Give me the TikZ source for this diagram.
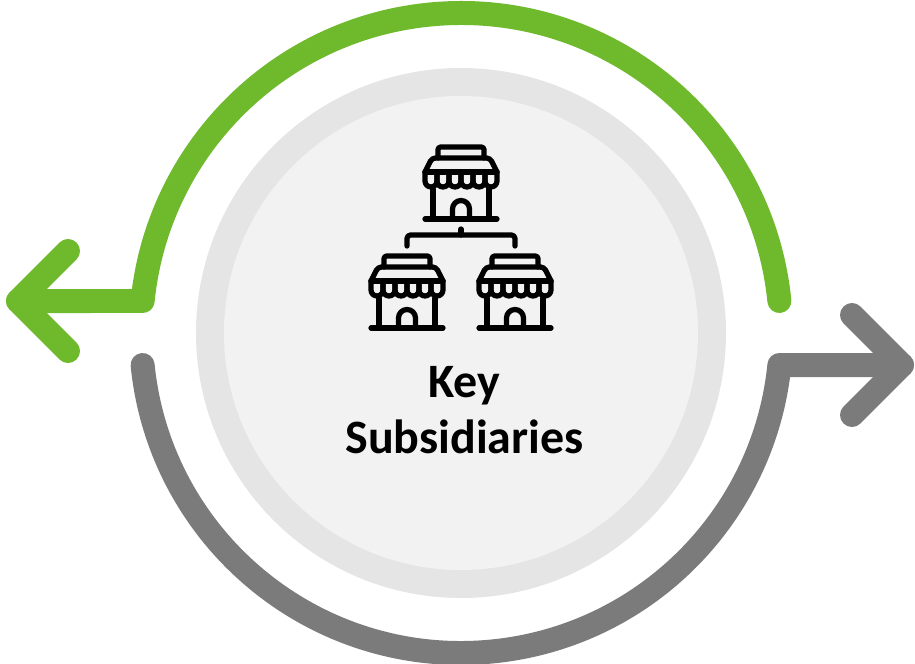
\documentclass[tikz,border=0pt]{standalone}
\usepackage{fontspec}
\setmainfont{Carlito}
\usetikzlibrary{calc,positioning}
\definecolor{kreisgruen}{HTML}{6FB92C}
\definecolor{kreisgrau}{HTML}{7B7B7B}
\definecolor{ringgrau}{HTML}{E5E5E5}
\definecolor{scheibe}{HTML}{F2F2F2}
\tikzset{
  pfeil/.style={line width=0.48cm,line cap=round,line join=round},
  strich/.style={black,line width=0.105cm,line cap=round,line join=round},
  shop/.pic={
    \draw[strich] (-36,0) -- (36,0);
    \draw[strich] (-28,0) -- (-28,30) (28,0) -- (28,30);
    \draw[strich] (-8.5,0) -- (-8.5,10) arc (180:0:8.5) -- (8.5,0);
    \draw[strich,rounded corners=1.5] (-23,61) -- (-23,72) -- (23,72) -- (23,61);
    \draw[strich,rounded corners=2] (-36,47) -- (-29,61) -- (29,61) -- (36,47);
    \draw[strich] (-36,47) -- (36,47);
    \foreach \i in {0,...,5}{
      \draw[strich] (-36+12*\i,47) -- ++(0,-9) arc (180:360:6) -- ++(0,9);
    }
  }
}
\begin{document}
\begin{tikzpicture}[x=0.02cm,y=0.02cm]
%Alle Masse in Pixeln des Bildes, Ursprung in der Kreismitte
  \pgfmathsetmacro{\RBogen}{320}
  \useasboundingbox (-461,-330) rectangle (454,333);
  \fill[ringgrau] (0,0) circle (265);
  \fill[scheibe] (0,0) circle (237);
%Pfeile
  \coordinate (tipL) at (-443,32);
  \coordinate (tipR) at (441,-32);
  \draw[pfeil,kreisgruen] (5.74:\RBogen) arc (5.74:174.26:\RBogen) -- (tipL);
  \draw[pfeil,kreisgruen] (-393,82) -- (tipL) -- (-393,-18);
  \draw[pfeil,kreisgrau] (185.74:\RBogen) arc (185.74:354.26:\RBogen) -- (tipR);
  \draw[pfeil,kreisgrau] (391,18) -- (tipR) -- (391,-82);
%Laeden
  \pic at (0,114) {shop};
  \pic at (-54,5) {shop};
  \pic at (54,5) {shop};
  \draw[strich,rounded corners=2] (-54,87) -- (-54,98) -- (54,98) -- (54,87);
  \draw[strich] (0,98) -- (0,104);
  \node[font=\bfseries\fontsize{27.3}{31.75}\selectfont,align=center] (titel) at (3.5,-77) {Key\\Subsidiaries};
\end{tikzpicture}
\end{document}
